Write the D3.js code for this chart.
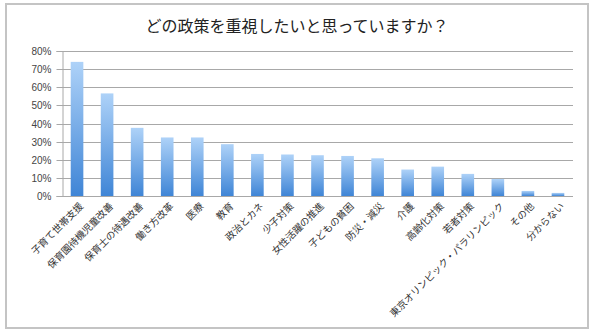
<!DOCTYPE html>
<html>
<head>
<meta charset="utf-8">
<script src="https://cdn.jsdelivr.net/npm/d3@7"></script>
<style>
  html, body { margin: 0; padding: 0; background: #fff; }
  svg { display: block; }
</style>
</head>
<body>
<svg id="chart" width="600" height="335"></svg>
<script>
// Survey: which policy areas respondents want to prioritise (share of respondents)
const categories = [
  "子育て世帯支援", "保育園待機児童改善", "保育士の待遇改善", "働き方改革", "医療",
  "教育", "政治とカネ", "少子対策", "女性活躍の推進", "子どもの貧困",
  "防災・減災", "介護", "高齢化対策", "若者対策", "東京オリンピック・パラリンピック",
  "その他", "分からない"
];
const shares = [
  0.74, 0.566, 0.376, 0.323, 0.323,
  0.286, 0.232, 0.229, 0.225, 0.221,
  0.208, 0.146, 0.162, 0.122, 0.094,
  0.028, 0.017
];
const yTicks = [0, 0.1, 0.2, 0.3, 0.4, 0.5, 0.6, 0.7, 0.8];
const title = "どの政策を重視したいと思っていますか？";

const svg = d3.select("#chart");
const font = "'Noto Sans CJK JP', 'Liberation Sans', sans-serif";

// outer frame
svg.append("rect")
  .attr("x", 6).attr("y", 4).attr("width", 582).attr("height", 324)
  .attr("fill", "#fff").attr("stroke", "#c4c4c4").attr("stroke-width", 2);

svg.append("text")
  .attr("x", 297).attr("y", 32)
  .attr("text-anchor", "middle")
  .attr("font-family", font)
  .attr("font-size", 16)
  .attr("fill", "#222")
  .text(title);

const plot = { left: 62, right: 573, top: 51, bottom: 196 };

const x = d3.scaleBand()
  .domain(categories)
  .range([plot.left, plot.right])
  .paddingInner(0.58)
  .paddingOuter(0.29);

const y = d3.scaleLinear()
  .domain([0, 0.8])
  .range([plot.bottom, plot.top]);

// per-bar gradient: light at the top of each bar, deeper blue at its base
const defs = svg.append("defs");
const grad = defs.append("linearGradient")
  .attr("id", "barFill")
  .attr("x1", 0).attr("y1", 0).attr("x2", 0).attr("y2", 1);
grad.append("stop").attr("offset", "0%").attr("stop-color", "#aed2f8");
grad.append("stop").attr("offset", "100%").attr("stop-color", "#3f85d6");

// gridlines
svg.append("g")
  .selectAll("line")
  .data(yTicks)
  .join("line")
  .attr("x1", plot.left).attr("x2", plot.right)
  .attr("y1", d => Math.round(y(d)) + 0.5)
  .attr("y2", d => Math.round(y(d)) + 0.5)
  .attr("stroke", "#a8a8a8").attr("stroke-width", 1);

// y axis
const yAxis = svg.append("g")
  .attr("transform", `translate(${plot.left + 0.5},0)`)
  .call(d3.axisLeft(y).tickValues(yTicks).tickFormat(d3.format(".0%")).tickSize(6).tickPadding(5));
yAxis.select(".domain").attr("stroke", "#a8a8a8");
yAxis.selectAll(".tick line").attr("stroke", "#a8a8a8");
yAxis.selectAll(".tick").attr("transform", d => `translate(0,${Math.round(y(d)) + 0.5})`);
yAxis.selectAll("text")
  .attr("font-family", "'Liberation Sans', Arial, sans-serif")
  .attr("font-size", 10)
  .attr("fill", "#444");

// bars
svg.append("g")
  .selectAll("rect")
  .data(categories)
  .join("rect")
  .attr("x", d => x(d))
  .attr("width", x.bandwidth())
  .attr("y", (d, i) => y(shares[i]))
  .attr("height", (d, i) => y(0) - y(shares[i]))
  .attr("fill", "url(#barFill)");

// category labels, rotated
svg.append("g")
  .selectAll("text")
  .data(categories)
  .join("text")
  .attr("transform", d => `translate(${x(d) + x.bandwidth() / 2 + 5},${plot.bottom + 9}) rotate(-45)`)
  .attr("text-anchor", "end")
  .attr("dominant-baseline", "middle")
  .attr("font-family", font)
  .attr("font-size", 9.8)
  .attr("fill", "#333")
  .text(d => d);
</script>
</body>
</html>
